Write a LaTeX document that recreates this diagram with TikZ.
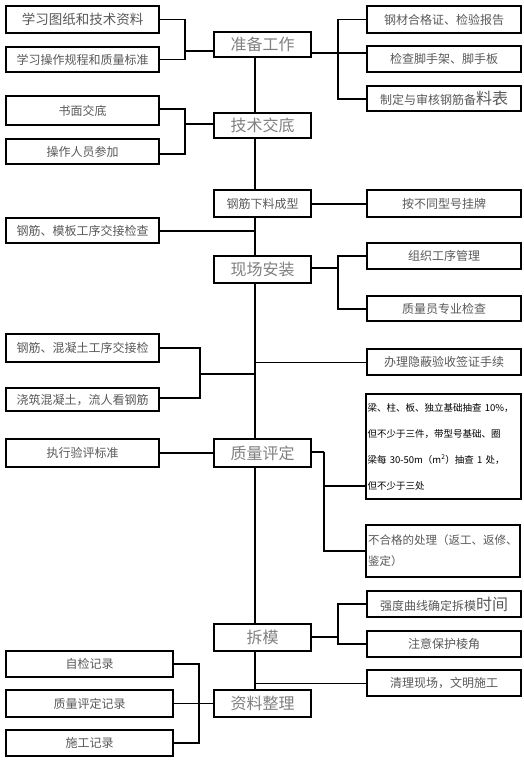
\documentclass[tikz,border=0pt]{standalone}
\usepackage{fontspec}
\setmainfont{Noto Sans CJK SC}
\begin{document}
\begin{tikzpicture}[x=1pt,y=-1pt,
  box/.style={draw=black,line width=2.2pt,fill=white,inner sep=0pt,text=black!65,
    font=\fontsize{12}{14}\selectfont},
  lbox/.style={box,minimum width=153pt,anchor=north west},
  rbox/.style={box,minimum width=154pt,anchor=north west},
  mbox/.style={box,minimum width=97pt,anchor=north west,text=black!50,
    font=\fontsize{16}{18}\selectfont},
  con/.style={line width=1.8pt},
  thin/.style={line width=0.9pt}]
\useasboundingbox (0,0) rectangle (524,760);
% left
\node[lbox,minimum height=27pt,font=\fontsize{13.5}{15}\selectfont] (L1) at (5,5) {学习图纸和技术资料};
\node[lbox,minimum height=25pt] (L2) at (5,46) {学习操作规程和质量标准};
\node[lbox,minimum height=29pt] (L3) at (5,95) {书面交底};
\node[lbox,minimum height=25pt] (L4) at (5,138) {操作人员参加};
\node[lbox,minimum height=25pt] (L5) at (5,217) {钢筋、模板工序交接检查};
\node[lbox,minimum height=28pt] (L6) at (5,333) {钢筋、混凝土工序交接检};
\node[lbox,minimum height=23pt] (L7) at (5,387) {浇筑混凝土，流人看钢筋};
\node[lbox,minimum height=28pt] (L8) at (5,438) {执行验评标准};
\node[lbox,minimum width=167pt,minimum height=26pt] (L9) at (5,650) {自检记录};
\node[lbox,minimum width=167pt,minimum height=27pt] (L10) at (5,689) {质量评定记录};
\node[lbox,minimum width=167pt,minimum height=26pt] (L11) at (5,729) {施工记录};
% main
\node[mbox,minimum height=25pt] (M1) at (213,31) {准备工作};
\node[mbox,minimum height=25pt] (M2) at (213,112) {技术交底};
\node[mbox,minimum height=27pt,font=\fontsize{12}{14}\selectfont,text=black!65] (M3) at (213,189) {钢筋下料成型};
\node[mbox,minimum height=27pt] (M4) at (213,255) {现场安装};
\node[mbox,minimum height=28pt] (M5) at (213,438) {质量评定};
\node[mbox,minimum height=27pt] (M6) at (213,623) {拆模};
\node[mbox,minimum height=27pt] (M7) at (213,689) {资料整理};
% right
\node[rbox,minimum height=27pt] (R1) at (366,5) {钢材合格证、检验报告};
\node[rbox,minimum height=26pt] (R2) at (366,45) {检查脚手架、脚手板};
\node[rbox,minimum height=25pt] (R3) at (366,85) {制定与审核钢筋备{\fontsize{16}{16}\selectfont 料表}};
\node[rbox,minimum height=27pt] (R4) at (366,189) {按不同型号挂牌};
\node[rbox,minimum height=26pt] (R5) at (366,242) {组织工序管理};
\node[rbox,minimum height=25pt] (R6) at (366,295) {质量员专业检查};
\node[rbox,minimum height=26pt] (R7) at (366,348) {办理隐蔽验收签证手续};
\node[rbox,minimum height=105pt,text width=152pt,inner xsep=1.5pt,align=left,text=black,
  font=\fontsize{9.5}{26}\selectfont] (R8) at (365,393)
  {梁、柱、板、独立基础抽查 10\%，\\但不少于三件，带型号基础、圈\\梁每 30-50m（m\textsuperscript{2}）抽查 1 处，\\但不少于三处};
\node[rbox,minimum height=52pt,text width=150pt,inner xsep=2pt,align=left,
  font=\fontsize{11.5}{21}\selectfont] (R9) at (365,524) {不合格的处理（返工、返修、\\鉴定）};
\node[rbox,minimum height=26pt] (R10) at (366,590) {强度曲线确定拆模{\fontsize{16}{16}\selectfont 时间}};
\node[rbox,minimum height=26pt] (R11) at (366,630) {注意保护棱角};
\node[rbox,minimum height=26pt] (R12) at (366,669) {清理现场，文明施工};
% junction coordinates
\coordinate (s) at (255,0);
\coordinate (jA) at (185,51);
\coordinate (jB) at (185,124);
\coordinate (jC) at (200,374);
\coordinate (jD) at (199,703);
\coordinate (kA) at (338,53);
\coordinate (kB) at (338,268);
\coordinate (kC) at (324,452);
\coordinate (kD) at (338,637);
% spine
\draw[con] (M1.south -| s) -- (M2.north -| s);
\draw[con] (M2.south -| s) -- (M3.north -| s);
\draw[con] (M3.south -| s) -- (M4.north -| s);
\draw[con] (M4.south -| s) -- (M5.north -| s);
\draw[con] (M5.south -| s) -- (M6.north -| s);
\draw[con] (M6.south -| s) -- (M7.north -| s);
% left brackets
\draw[con] (L1.east) -| (jA) |- (L2.east);
\draw[con] (jA) -- (jA -| M1.west);
\draw[con] ([yshift=1.5pt]L3.east) -| (jB);
\draw[con] ([yshift=-2.5pt]L4.east) -| (jB);
\draw[con] (jB) -- (jB -| M2.west);
\draw[con] (L5.east) -- (L5.east -| s);
\draw[con] (L6.east) -| (jC) |- ([yshift=1.5pt]L7.east);
\draw[con] (jC) -- (jC -| s);
\draw[con] (L8.east) -- (M5.west);
\draw[con] (L9.east) -| (jD) |- (L11.east);
\draw[thin] (L10.east) -- (M7.west);
% right brackets
\draw[con] (kA -| M1.east) -- (kA -| R2.west);
\draw[con] (R1.west) -| (kA) |- (R3.west);
\draw[con] (M3.east) -- (R4.west);
\draw[con] (kB -| M4.east) -- (kB);
\draw[con] (R5.west) -| (kB) |- (R6.west);
\draw[thin] (R7.west -| s) -- (R7.west);
\draw[con] (kC -| M5.east) -- (kC);
\draw[con] ([yshift=-39pt]R8.west) -| (kC) |- (R9.west);
\draw[con] (kD -| M6.east) -- (kD);
\draw[con] (R10.west) -| (kD) |- (R11.west);
\draw[thin] (R12.west -| s) -- (R12.west);
\end{tikzpicture}
\end{document}
